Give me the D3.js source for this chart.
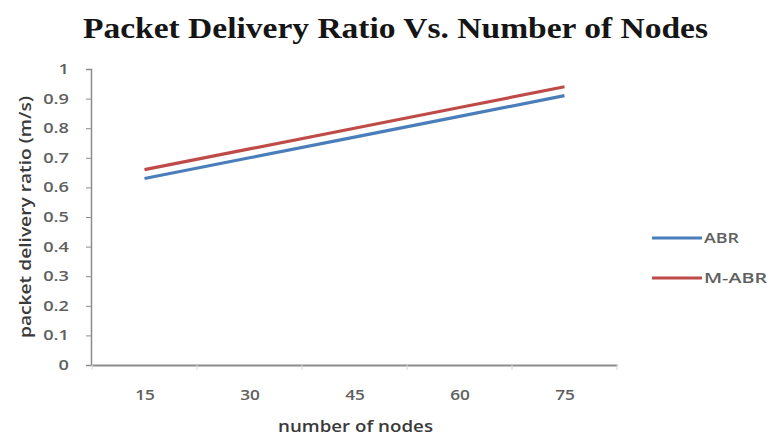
<!DOCTYPE html>
<html>
<head>
<meta charset="utf-8">
<script src="https://cdn.jsdelivr.net/npm/d3@7"></script>
<style>
  html, body { margin: 0; padding: 0; background: #fff; }
  svg { display: block; }
</style>
</head>
<body>
<svg id="chart" width="769" height="437"></svg>
<script>
// Number of nodes on the x axis
const nodes = ["15", "30", "45", "60", "75"];
// Packet delivery ratio per protocol
const abr = [0.63, 0.70, 0.77, 0.84, 0.91];
const mAbr = [0.66, 0.73, 0.80, 0.87, 0.94];
const yTicks = [0, 0.1, 0.2, 0.3, 0.4, 0.5, 0.6, 0.7, 0.8, 0.9, 1];
const seriesNames = ["ABR", "M-ABR"];
const seriesColors = ["#4a7ebb", "#be4b48"];

const svg = d3.select("#chart");
const plot = { left: 92, right: 617, top: 69, bottom: 365 };

const x = d3.scalePoint().domain(nodes).range([plot.left, plot.right]).padding(0.5);
const band = d3.scaleBand().domain(nodes).range([plot.left, plot.right]);
const y = d3.scaleLinear().domain([0, 1]).range([plot.bottom, plot.top]);

const axisColor = "#8c8c8c";
const labelFont = "'Open Sans', 'Liberation Sans', sans-serif";
const tickColor = "#606060";

// Widen text glyphs horizontally by a factor (the chart uses a broad face)
function widen(sel, factor) {
  sel.each(function () {
    const w = this.getComputedTextLength();
    d3.select(this).attr("textLength", w * factor).attr("lengthAdjust", "spacingAndGlyphs");
  });
}

// Title
svg.append("text")
  .attr("x", 83).attr("y", 38)
  .attr("font-family", "'Liberation Serif', 'Times New Roman', serif")
  .attr("font-weight", "bold")
  .attr("font-size", 30)
  .attr("fill", "#151515")
  .attr("textLength", 625)
  .attr("lengthAdjust", "spacingAndGlyphs")
  .text("Packet Delivery Ratio Vs. Number of Nodes");

// Y axis
const yAxis = svg.append("g")
  .attr("transform", `translate(${plot.left - 1},0)`)
  .call(d3.axisLeft(y).tickValues(yTicks).tickSize(5).tickPadding(17)
    .tickFormat(d => d === 0 ? "0" : d === 1 ? "1" : d3.format(".1f")(d)));
yAxis.select(".domain").attr("stroke", axisColor).attr("stroke-width", 1.5);
yAxis.selectAll(".tick line").attr("stroke", axisColor);
yAxis.selectAll(".tick text")
  .attr("font-family", labelFont).attr("font-size", 14).attr("font-weight", 600)
  .attr("fill", tickColor);
widen(yAxis.selectAll(".tick text"), 1.3);

// X axis with tick marks between categories
const xAxis = svg.append("g")
  .attr("transform", `translate(0,${plot.bottom})`)
  .call(d3.axisBottom(x).tickSize(0).tickPadding(24));
xAxis.select(".domain").attr("stroke", axisColor).attr("stroke-width", 2);
xAxis.selectAll(".tick text")
  .attr("font-family", labelFont).attr("font-size", 15).attr("font-weight", 600)
  .attr("fill", tickColor);
widen(xAxis.selectAll(".tick text"), 1.15);
xAxis.selectAll(".sep")
  .data(nodes.map(n => band(n)).concat([plot.right]))
  .join("line")
  .attr("class", "sep")
  .attr("x1", d => d).attr("x2", d => d)
  .attr("y1", 0).attr("y2", 5)
  .attr("stroke", "#d8d8d8");

// Axis titles
svg.append("text")
  .attr("x", 278).attr("y", 432)
  .attr("font-family", labelFont)
  .attr("font-size", 16).attr("font-weight", 600).attr("fill", "#3a3a3a")
  .attr("textLength", 155).attr("lengthAdjust", "spacingAndGlyphs")
  .text("number of nodes");

svg.append("text")
  .attr("transform", `translate(31,338) rotate(-90)`)
  .attr("font-family", labelFont)
  .attr("font-size", 16).attr("font-weight", 600).attr("fill", "#3a3a3a")
  .attr("textLength", 242).attr("lengthAdjust", "spacingAndGlyphs")
  .text("packet delivery ratio (m/s)");

// Series lines
const line = d3.line().x((d, i) => x(nodes[i])).y(d => y(d));
[abr, mAbr].forEach((vals, i) => {
  svg.append("path")
    .datum(vals)
    .attr("d", line)
    .attr("fill", "none")
    .attr("stroke", seriesColors[i])
    .attr("stroke-width", 3.2)
    .attr("stroke-linecap", "butt");
});

// Legend
const legendWidths = [35, 63];
const legend = svg.append("g");
seriesNames.forEach((name, i) => {
  const ly = 238 + i * 40;
  legend.append("line")
    .attr("x1", 652).attr("x2", 702)
    .attr("y1", ly).attr("y2", ly)
    .attr("stroke", seriesColors[i]).attr("stroke-width", 3.2);
  legend.append("text")
    .attr("x", 704).attr("y", ly + 5)
    .attr("font-family", labelFont)
    .attr("font-size", 14).attr("font-weight", 600).attr("fill", tickColor)
    .attr("textLength", legendWidths[i]).attr("lengthAdjust", "spacingAndGlyphs")
    .text(name);
});
</script>
</body>
</html>
